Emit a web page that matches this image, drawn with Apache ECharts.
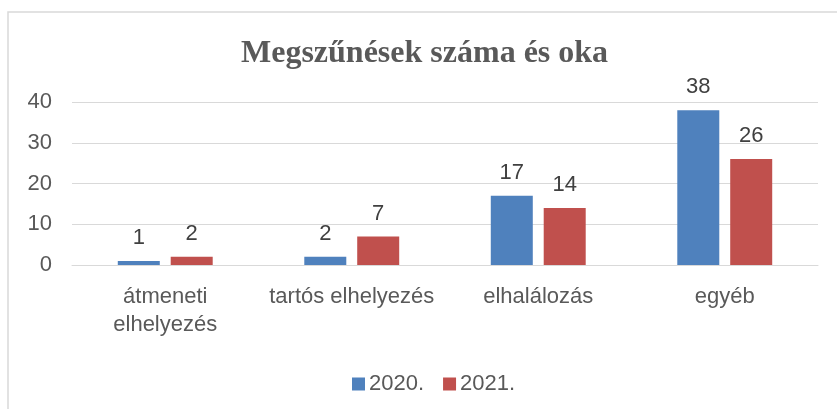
<!DOCTYPE html>
<html>
<head>
<meta charset="utf-8">
<script src="https://cdn.jsdelivr.net/npm/echarts@6/dist/echarts.min.js"></script>
<style>
  html, body { margin: 0; padding: 0; background: #fff; }
  #chart { width: 837px; height: 409px; }
</style>
</head>
<body>
<div id="chart"></div>
<script>
var categories = ["átmeneti\nelhelyezés", "tartós elhelyezés", "elhalálozás", "egyéb"];
var values2020 = [1, 2, 17, 38];
var values2021 = [2, 7, 14, 26];
var seriesNames = ["2020.", "2021."];

var chart = echarts.init(document.getElementById("chart"));

var labelStyle = {
  show: true,
  position: "top",
  distance: 12,
  color: "#404040",
  fontFamily: "Liberation Sans",
  fontSize: 22
};

var option = {
  animation: false,
  backgroundColor: "#fff",
  graphic: [{
    type: "rect",
    shape: { x: 8, y: 12, width: 900, height: 500 },
    style: { fill: "none", stroke: "#d9d9d9", lineWidth: 1.5 },
    silent: true
  }],
  title: {
    text: "Megszűnések száma és oka",
    left: 236,
    top: 33,
    textStyle: {
      fontFamily: "Liberation Serif",
      fontWeight: "bold",
      fontSize: 32,
      color: "#595959"
    }
  },
  legend: {
    data: seriesNames,
    left: 347,
    top: 368,
    icon: "rect",
    itemWidth: 13,
    itemHeight: 13,
    itemGap: 19,
    textStyle: {
      fontFamily: "Liberation Sans",
      fontSize: 22,
      color: "#595959",
      padding: [0, 0, 0, -1]
    }
  },
  grid: { left: 72, right: 19, top: 102, bottom: 144 },
  xAxis: {
    type: "category",
    data: categories,
    axisLine: { lineStyle: { color: "#d9d9d9", width: 1 } },
    axisTick: { show: false },
    axisLabel: {
      margin: 18,
      color: "#595959",
      fontFamily: "Liberation Sans",
      fontSize: 22,
      lineHeight: 28,
      interval: 0
    }
  },
  yAxis: {
    type: "value",
    min: 0,
    max: 40,
    interval: 10,
    axisLine: { show: false },
    axisTick: { show: false },
    splitLine: { lineStyle: { color: "#d9d9d9", width: 1 } },
    axisLabel: {
      margin: 20,
      color: "#595959",
      fontFamily: "Liberation Sans",
      fontSize: 22
    }
  },
  series: [
    {
      name: seriesNames[0],
      type: "bar",
      data: values2020,
      barWidth: 42,
      barGap: "26%",
      itemStyle: { color: "#4F81BD" },
      label: labelStyle
    },
    {
      name: seriesNames[1],
      type: "bar",
      data: values2021,
      barWidth: 42,
      itemStyle: { color: "#C0504D" },
      label: labelStyle
    }
  ]
};

chart.setOption(option);
</script>
</body>
</html>
